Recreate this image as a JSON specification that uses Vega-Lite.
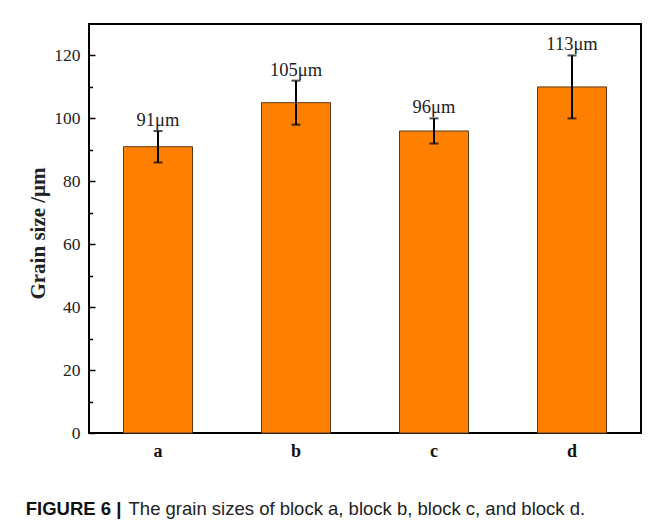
{
  "$schema": "https://vega.github.io/schema/vega-lite/v6.json",
  "width": 552,
  "height": 409,
  "autosize": {"type": "none"},
  "padding": {"left": 89, "top": 24, "right": 22, "bottom": 94},
  "background": "white",
  "config": {
    "view": {"stroke": "black", "strokeWidth": 2},
    "font": "Liberation Serif",
    "axis": {"domain": false, "grid": false, "labelFont": "Liberation Serif", "titleFont": "Liberation Serif", "labelColor": "#222", "titleColor": "#222"}
  },
  "data": {"values": [
    {"block": "a", "size": 91, "lower": 86, "upper": 96, "label": "91μm"},
    {"block": "b", "size": 105, "lower": 98, "upper": 112, "label": "105μm"},
    {"block": "c", "size": 96, "lower": 92, "upper": 100, "label": "96μm"},
    {"block": "d", "size": 110, "lower": 100, "upper": 120, "label": "113μm"}
  ]},
  "title": {
    "text": "FIGURE 6 |",
    "subtitle": "\u200b\u00a0\u00a0\u00a0\u00a0\u00a0\u00a0\u00a0\u00a0\u00a0\u00a0\u00a0\u00a0\u00a0\u00a0\u00a0\u00a0\u00a0\u00a0\u00a0\u00a0The grain sizes of block a, block b, block c, and block d.",
    "orient": "bottom",
    "anchor": "start",
    "frame": "bounds",
    "font": "Liberation Sans",
    "fontSize": 18.5,
    "fontWeight": "bold",
    "color": "#111",
    "subtitleFont": "Liberation Sans",
    "subtitleFontSize": 18.5,
    "subtitleFontWeight": "normal",
    "subtitleColor": "#222",
    "subtitlePadding": -18.5,
    "offset": 40,
    "dx": -2
  },
  "layer": [
    {
      "layer": [
        {
          "mark": {"type": "bar", "fill": "#FF8000", "stroke": "#5a3a1a", "strokeWidth": 1},
          "encoding": {
            "x": {"field": "block", "type": "nominal", "scale": {"paddingInner": 0.5, "paddingOuter": 0.25},
                  "axis": {"title": null, "labelAngle": 0, "ticks": false, "labelFontSize": 18, "labelFontWeight": "bold", "labelPadding": 9, "labelColor": "#111"}},
            "y": {"field": "size", "type": "quantitative", "scale": {"domain": [0, 130]},
                  "axis": {"title": "Grain size /μm", "values": [0, 20, 40, 60, 80, 100, 120], "tickSize": -6, "tickWidth": 1.5, "tickColor": "black", "labelFontSize": 17.5, "labelPadding": 15, "titleFontSize": 21, "titleFontWeight": "bold", "titlePadding": 5, "titleY": 209}}
          }
        },
        {
          "mark": {"type": "errorbar", "ticks": {"size": 9, "thickness": 2}, "thickness": 2, "color": "black"},
          "encoding": {
            "x": {"field": "block", "type": "nominal"},
            "y": {"field": "lower", "type": "quantitative", "title": "Grain size /μm"},
            "y2": {"field": "upper"}
          }
        }
      ]
    },
    {
      "mark": {"type": "text", "baseline": "alphabetic", "dy": -5, "fontSize": 18.5, "font": "Liberation Serif", "color": "#222"},
      "encoding": {
        "x": {"field": "block", "type": "nominal"},
        "y": {"field": "upper", "type": "quantitative", "scale": {"domain": [0, 130]},
              "axis": {"orient": "left", "labels": false, "title": null, "values": [10, 30, 50, 70, 90, 110], "tickSize": -3.5, "tickWidth": 1.5, "tickColor": "black"}},
        "text": {"field": "label"}
      }
    }
  ],
  "resolve": {"axis": {"y": "independent"}}
}
